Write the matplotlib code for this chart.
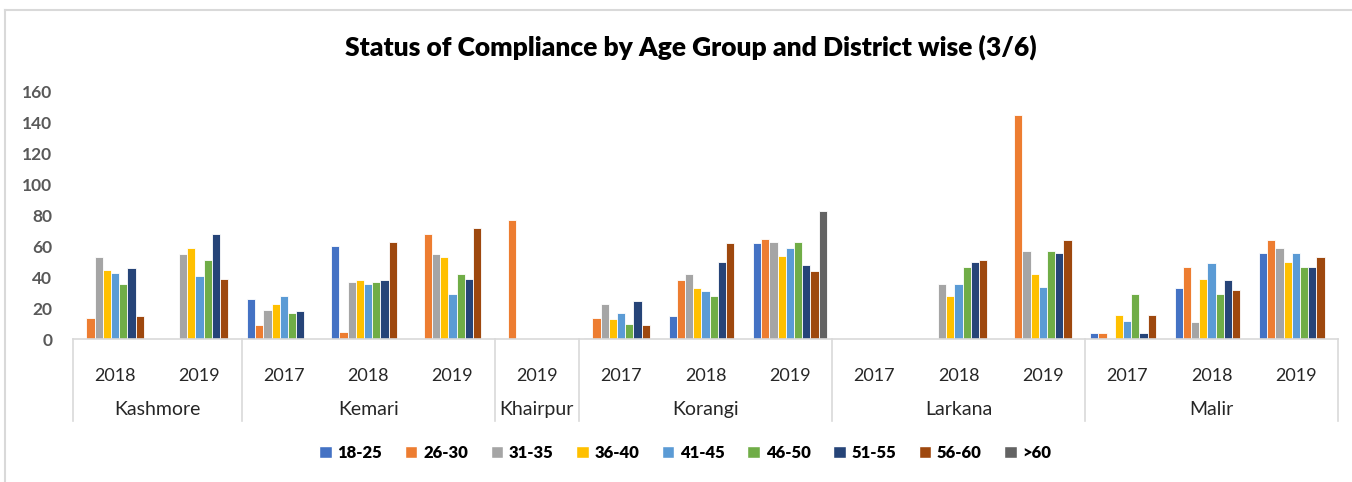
import numpy as np
import matplotlib
matplotlib.use('Agg')
import matplotlib.pyplot as plt
from matplotlib.patches import Patch
import matplotlib.transforms as mtransforms

plt.rcParams['font.family'] = ['Lato', 'DejaVu Sans']

districts = ['Kashmore', 'Kemari', 'Khairpur', 'Korangi', 'Larkana', 'Malir']
years = [['2018', '2019'], ['2017', '2018', '2019'], ['2019'],
         ['2017', '2018', '2019'], ['2017', '2018', '2019'], ['2017', '2018', '2019']]

age_groups = ['18-25', '26-30', '31-35', '36-40', '41-45', '46-50', '51-55', '56-60', '>60']

# one value per district/year, in the order of the years list above
v18_25 = [0, 0, 26, 60, 0, 0, 1, 15, 62, 0, 0, 0, 4, 33, 56]
v26_30 = [14, 0, 9, 5, 68, 77, 14, 38, 65, 0, 0, 145, 4, 47, 64]
v31_35 = [53, 55, 19, 37, 55, 0, 23, 42, 63, 0, 36, 57, 1, 11, 59]
v36_40 = [45, 59, 23, 38, 53, 0, 13, 33, 54, 0, 28, 42, 16, 39, 50]
v41_45 = [43, 41, 28, 36, 29, 0, 17, 31, 59, 0, 36, 34, 12, 49, 56]
v46_50 = [36, 51, 17, 37, 42, 0, 10, 28, 63, 0, 47, 57, 29, 29, 47]
v51_55 = [46, 68, 18, 38, 39, 0, 25, 50, 48, 0, 50, 56, 4, 38, 47]
v56_60 = [15, 39, 0, 63, 72, 0, 9, 62, 44, 0, 51, 64, 16, 32, 53]
v60plus = [0, 0, 0, 0, 0, 0, 0, 0, 83, 0, 0, 0, 0, 0, 0]

series = [v18_25, v26_30, v31_35, v36_40, v41_45, v46_50, v51_55, v56_60, v60plus]
colors = ['#4472C4', '#ED7D31', '#A5A5A5', '#FFC000', '#5B9BD5',
          '#70AD47', '#264478', '#9E480E', '#636363']

fig = plt.figure(figsize=(13.52, 4.82), dpi=100)
ax = fig.add_axes([73 / 1352, 1 - 339.3 / 482, (1338 - 73) / 1352, (339.3 - 91.7) / 482])

n_cat = len(v18_25)
x = np.arange(n_cat) + 0.5
w = 0.0973
for j, (vals, c) in enumerate(zip(series, colors)):
    ax.bar(x + (j - 4) * w, vals, width=w, color=c, edgecolor='white', linewidth=0.6, zorder=2)

ax.set_xlim(0, n_cat)
ax.set_ylim(0, 160)
ax.set_yticks(range(0, 161, 20))
ax.set_xticks([])
for s in ax.spines.values():
    s.set_visible(False)
ax.tick_params(axis='y', length=0, pad=15, labelsize=12.5, labelcolor='#595959')
for lab in ax.get_yticklabels():
    lab.set_fontweight('bold')

# two-level category axis
trans = mtransforms.blended_transform_factory(ax.transData, ax.transAxes)
axc = '#D9D9D9'
ax.plot([0, n_cat], [0, 0], color=axc, lw=1.2, transform=trans, clip_on=False, zorder=3)
y_year = -37 / 247.6
y_dist = -70 / 247.6
y_bottom = -82 / 247.6
pos = 0
bounds = [0]
for d, ys in zip(districts, years):
    for k, yr in enumerate(ys):
        ax.text(pos + k + 0.5, y_year, yr, transform=trans, ha='center', va='center',
                fontsize=13, color='#262626')
    ax.text(pos + len(ys) / 2, y_dist, d, transform=trans, ha='center', va='center',
            fontsize=14, color='#262626')
    pos += len(ys)
    bounds.append(pos)
for b in bounds:
    ax.plot([b, b], [0, y_bottom], color=axc, lw=1.2, transform=trans, clip_on=False)

fig.text(0.511, 1 - 47 / 482, 'Status of Compliance by Age Group and District wise (3/6)',
         ha='center', va='center', fontsize=19, fontweight='heavy', color='black')

handles = [Patch(facecolor=c, edgecolor='white') for c in colors]
fig.legend(handles, age_groups, loc='center', bbox_to_anchor=(0.507, 1 - 453 / 482), ncol=9,
           frameon=False, handlelength=0.75, handleheight=0.75, handletextpad=0.35,
           columnspacing=1.35, prop={'weight': 'heavy', 'size': 12})

# chart border
fig.add_artist(plt.Line2D([5 / 1352, 5 / 1352], [0, 1 - 10 / 482], color='#D9D9D9', lw=1.5))
fig.add_artist(plt.Line2D([5 / 1352, 1], [1 - 10 / 482, 1 - 10 / 482], color='#D9D9D9', lw=1.5))

fig.savefig('out.png', dpi=100)
